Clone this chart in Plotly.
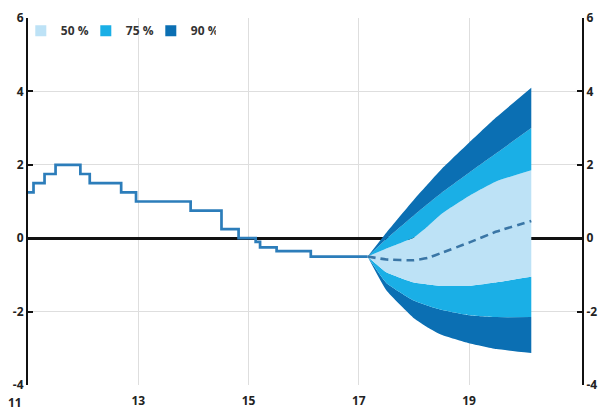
import plotly.graph_objects as go

# Step series (policy rate)
step_x = [11.0, 11.1, 11.3, 11.5, 11.95, 12.12, 12.69, 12.96, 13.95, 14.51, 14.82, 15.13, 15.21, 15.51, 16.13, 17.16]
step_y = [1.25, 1.5, 1.75, 2.0, 1.75, 1.5, 1.25, 1.0, 0.75, 0.25, 0.0, -0.1, -0.25, -0.35, -0.5, -0.5]

# Forecast fan
fan_x = [17.16, 17.5, 18.0, 18.25, 18.5, 19.0, 19.5, 20.13]
median = [-0.5, -0.58, -0.6, -0.54, -0.4, -0.12, 0.18, 0.47]
upper50 = [-0.5, -0.28, 0.02, 0.32, 0.66, 1.15, 1.55, 1.85]
lower50 = [-0.5, -0.93, -1.21, -1.26, -1.3, -1.3, -1.2, -1.05]
upper75 = [-0.5, -0.02, 0.62, 0.93, 1.23, 1.78, 2.32, 3.0]
lower75 = [-0.5, -1.22, -1.7, -1.84, -1.95, -2.1, -2.15, -2.15]
upper90 = [-0.5, 0.15, 1.05, 1.47, 1.88, 2.6, 3.3, 4.1]
lower90 = [-0.5, -1.42, -2.18, -2.43, -2.63, -2.86, -3.02, -3.13]

legend_labels = ["50 %", "75 %", "90 %"]
x_ticks = [11, 13, 15, 17, 19]
y_ticks = [-4, -2, 0, 2, 4, 6]

LIGHT = "#BDE2F6"
MID = "#1AAFE6"
DARK = "#0B6FB3"
LINE = "#2C7DBA"
DASH = "#3A76A6"

FONT = "Open Sans, DejaVu Sans, sans-serif"
TICKFONT = dict(family=FONT, size=12, color="#222222", weight="bold")

fig = go.Figure()

bands = [
    (lower90, None),
    (lower75, DARK),
    (lower50, MID),
    (upper50, LIGHT),
    (upper75, MID),
    (upper90, DARK),
]
for i, (ys, col) in enumerate(bands):
    fig.add_trace(go.Scatter(
        x=fan_x, y=ys, mode="lines",
        line=dict(width=0, shape="spline", smoothing=0.4),
        fill=None if i == 0 else "tonexty",
        fillcolor=col, showlegend=False, hoverinfo="skip"))

fig.add_trace(go.Scatter(x=fan_x, y=median, mode="lines",
                         line=dict(color=DASH, width=2.6, dash="8px,5px", shape="spline", smoothing=0.4),
                         showlegend=False))
fig.add_trace(go.Scatter(x=step_x, y=step_y, mode="lines",
                         line=dict(color=LINE, width=2.7, shape="hv"),
                         showlegend=False))

for lab, col in zip(legend_labels, [LIGHT, MID, DARK]):
    fig.add_trace(go.Scatter(x=[None], y=[None], mode="markers", name=lab,
                             marker=dict(symbol="square", size=11, color=col)))

# right axis dummy
fig.add_trace(go.Scatter(x=[None], y=[None], yaxis="y2", showlegend=False))

ytext = [str(v) for v in y_ticks]

fig.update_layout(
    width=600, height=410,
    margin=dict(l=28, r=18, t=18, b=25),
    paper_bgcolor="white", plot_bgcolor="white",
    font=dict(family=FONT, size=12, color="#222222"),
    showlegend=True,
    legend=dict(orientation="h", x=-0.013, y=1.005, xanchor="left", yanchor="top",
                traceorder="normal",
                font=dict(family=FONT, size=12, color="#333333", weight="bold"),
                bgcolor="rgba(0,0,0,0)", itemwidth=30, entrywidth=20, entrywidthmode="pixels",
                itemclick=False),
    xaxis=dict(range=[11, 21.05], tickvals=x_ticks[1:], ticktext=[str(v) for v in x_ticks[1:]],
               showgrid=True, gridcolor="#DEDEDE", gridwidth=1,
               showline=False, zeroline=False, ticks="", automargin=False,
               ticklabelstandoff=7, tickfont=TICKFONT),
    yaxis=dict(range=[-4, 6], tickvals=y_ticks, ticktext=ytext, showgrid=True, gridcolor="#DEDEDE", gridwidth=1,
               zeroline=True, zerolinecolor="#111111", zerolinewidth=2.5,
               showline=True, linecolor="#111111", linewidth=2, automargin=False,
               ticks="inside", ticklen=5, tickwidth=2, tickcolor="#111111",
               tickfont=TICKFONT),
    yaxis2=dict(range=[-4, 6], tickvals=y_ticks, ticktext=ytext, overlaying="y", side="right",
                showgrid=False, zeroline=False, automargin=False,
                showline=True, linecolor="#111111", linewidth=2,
                ticks="inside", ticklen=5, tickwidth=2, tickcolor="#111111",
                tickfont=TICKFONT),
)

# first x label sits left of the axis in the original
fig.add_annotation(x=x_ticks[0], y=0, xref="x", yref="paper", yanchor="top",
                   text=str(x_ticks[0]), showarrow=False, xshift=-13, yshift=-8,
                   borderpad=0, font=TICKFONT)

fig.write_html("out.html")
